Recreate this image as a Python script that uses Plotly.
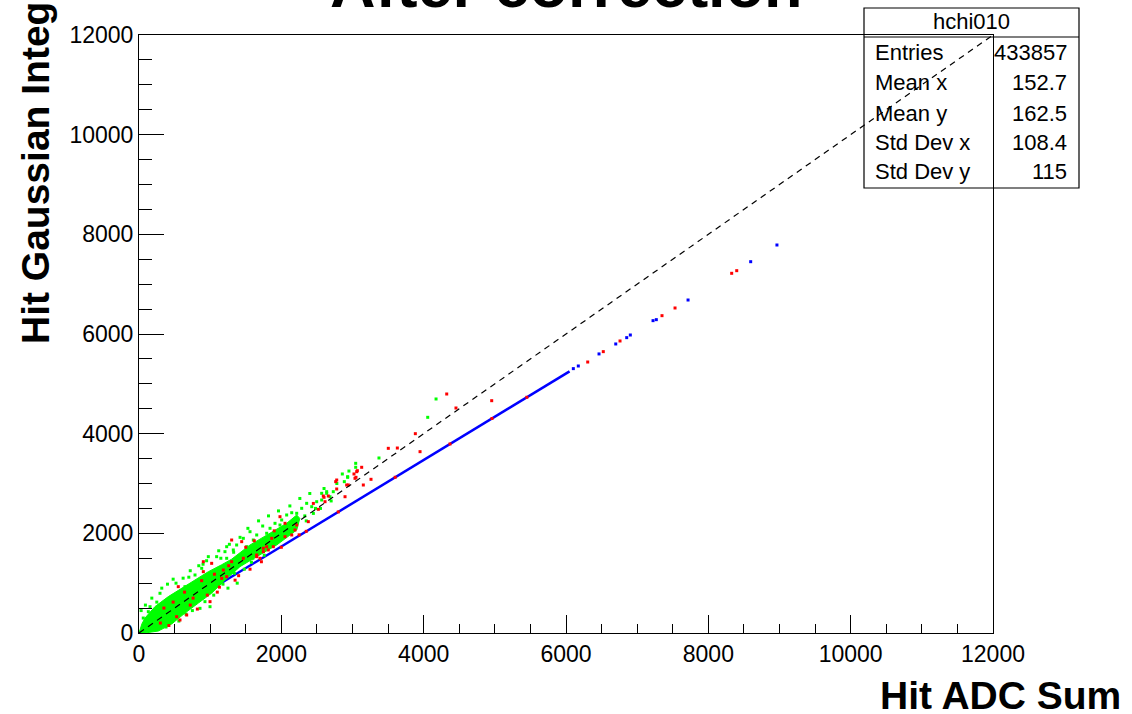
import plotly.graph_objects as go

# ---------------- data ----------------
# dense core of the green population (outline of the saturated region)
green_core_x = [0, 40, 84, 225, 412, 600, 787, 974, 1162, 1300, 1560, 1841, 2075, 2216,
                2260, 2216, 2122, 1935, 1654, 1419, 1208, 1021, 834, 646, 459, 272, 84, 0]
green_core_y = [0, 180, 300, 530, 730, 900, 1065, 1230, 1370, 1480, 1766, 2001, 2201, 2368,
                2300, 2067, 1967, 1766, 1532, 1331, 1060, 800, 600, 400, 180, 40, 0, 0]

# isolated green hits
green_x = [60, 131, 155, 200, 250, 295, 342, 380, 436, 482, 520, 560, 576, 646, 693, 700,
           750, 787, 857, 881, 900, 927, 974, 998, 1050, 1068, 1091, 1150, 1162, 1208, 1232,
           1232, 1250, 1325, 1330, 1372, 1380, 1466, 1513, 1560, 1600, 1606, 1654, 1724,
           1738, 1750, 1794, 1841, 1900, 1911, 1981, 2005, 2050, 2075, 2146, 2200, 2216,
           2286, 2350, 2356, 2427, 2450, 2497, 2550, 2567, 2567, 2637, 2637, 2684, 2730,
           2857, 2885, 2932, 2932, 3045, 3045, 3372, 4057, 4174,
           30, 90, 120, 180, 240, 320, 350, 400, 450, 480, 540, 620, 660, 720, 780, 840,
           880, 950, 1010, 1120, 1180, 1270, 1340, 1420, 1480, 1530, 1580, 1680, 1760,
           1820, 1960, 2030, 2120, 2180, 2260, 2330, 2400, 2480, 2600, 2700, 2780, 2950]
green_y = [300, 428, 528, 80, 620, 797, 596, 120, 696, 294, 1000, 240, 395, 930, 562, 1120,
           450, 1164, 495, 1298, 1380, 629, 1532, 528, 760, 1130, 1532, 1500, 1231, 1632, 1732,
           1499, 900, 1666, 1620, 1766, 1000, 1900, 1732, 2033, 1500, 1866, 1967, 1746,
           2147, 1650, 2001, 2101, 1780, 2201, 2167, 2268, 1950, 2368, 2414, 2100, 2402,
           2502, 2250, 2602, 2535, 2400, 2635, 2500, 2669, 2803, 2803, 2836, 2735, 2836,
           3191, 3037, 3124, 3137, 3405, 3325, 3512, 4328, 4696,
           450, 560, 240, 700, 150, 900, 420, 980, 330, 1080, 700, 1100, 380, 1250, 620, 1350,
           700, 1450, 900, 1650, 980, 1780, 1200, 1920, 1280, 2100, 1420, 2250, 1560,
           2350, 2450, 2050, 2550, 2200, 2700, 2350, 2800, 2500, 2900, 2650, 3000, 3250]

# red hits
red_x = [300, 420, 529, 552, 576, 670, 760, 820, 904, 904, 998, 1021, 1100, 1162, 1185,
         1232, 1302, 1302, 1400, 1443, 1466, 1654, 1654, 1700, 1747, 1747, 1794, 1817, 1865,
         1887, 1981, 2052, 2052, 2146, 2192, 2216, 2350, 2379, 2520, 2590, 2600, 2614, 2660,
         2764, 2778, 2778, 2800, 2895, 2918, 2941, 3021, 3035, 3049, 3059, 3068, 3129, 3152,
         3260, 3503, 3600, 3630, 3883, 3949, 4324, 4370, 4454, 4956, 4960, 5450, 6305, 6524,
         6759, 7349, 7532, 8328, 8399,
         350, 480, 640, 720, 880, 960, 1060, 1130, 1260, 1350, 1500, 1560, 1620, 1720,
         1900, 2000, 2250, 2450]
red_y = [200, 150, 327, 930, 261, 361, 700, 480, 1231, 1431, 629, 1398, 820, 1097, 1264,
         1130, 1431, 1866, 1150, 1833, 1499, 1532, 1565, 1499, 1632, 1700, 1732, 1666, 1900,
         1732, 2334, 2201, 1933, 1967, 2067, 2167, 2040, 2234, 2482, 2749, 2723, 2635, 2749,
         3037, 3070, 2890, 2430, 2735, 2970, 2970, 3191, 3104, 3124, 3237, 3257, 3325, 2970,
         3084, 3706, 3125, 3712, 4000, 3639, 4796, 3793, 4515, 4662, 4305, 4730, 5438, 5646,
         5860, 6368, 6522, 7218, 7271,
         500, 620, 820, 560, 1050, 760, 1180, 920, 1350, 1060, 1720, 1280, 1850, 1430,
         2050, 1720, 1970, 2600]

# blue hits: densely populated response band plus the sparse high-amplitude tail
blue_band_x = [0, 3000, 6050]
blue_band_y = [0, 2605, 5250]
blue_x = [6103, 6173, 6464, 6699, 6853, 6904, 7223, 7269, 7715, 8595, 8964]
blue_y = [5305, 5358, 5600, 5800, 5927, 5980, 6268, 6288, 6682, 7451, 7786]

# y = x reference diagonal
diag_x = [0, 12000]
diag_y = [0, 12000]

axis_ticks = [0, 2000, 4000, 6000, 8000, 10000, 12000]

hist_name = "hchi010"
stat_labels = ["Entries", "Mean x", "Mean y", "Std Dev x", "Std Dev y"]
stat_values = ["433857", "152.7", "162.5", "108.4", "115"]

# ---------------- layout geometry (pixels) ----------------
W, H = 1132, 714
L, R, T, B = 139, 993, 35, 633


def fx(px):
    return (px - L) / (R - L)


def fy(py):
    return (B - py) / (B - T)


FONT = "Liberation Sans, Arial, Helvetica, sans-serif"

fig = go.Figure()

fig.add_trace(go.Scatter(x=blue_band_x, y=blue_band_y, mode="lines",
                         line=dict(color="#0000ff", width=2.5), hoverinfo="skip"))
fig.add_trace(go.Scatter(x=blue_x, y=blue_y, mode="markers",
                         marker=dict(color="#0000ff", size=3, symbol="square",
                                     line=dict(width=0))))
fig.add_trace(go.Scatter(x=green_core_x, y=green_core_y, mode="lines", fill="toself",
                         fillcolor="#00ff00", line=dict(color="#00ff00", width=1)))
fig.add_trace(go.Scatter(x=green_x, y=green_y, mode="markers",
                         marker=dict(color="#00ff00", size=3, symbol="square",
                                     line=dict(width=0))))
fig.add_trace(go.Scatter(x=red_x, y=red_y, mode="markers",
                         marker=dict(color="#ff0000", size=3, symbol="square",
                                     line=dict(width=0))))
fig.add_trace(go.Scatter(x=diag_x, y=diag_y, mode="lines",
                         line=dict(color="black", width=1.2, dash="6px,5px")))

axis_common = dict(
    range=[0, 12000], tickvals=axis_ticks, ticktext=[str(v) for v in axis_ticks],
    ticks="inside", tickwidth=1, tickcolor="black",
    showline=True, linecolor="black", linewidth=1, mirror=True,
    showgrid=False, zeroline=False,
    tickfont=dict(family=FONT, size=23, color="black"),
)

fig.update_xaxes(**axis_common, ticklen=18,
                 minor=dict(dtick=500, ticks="inside", ticklen=9, tickcolor="black",
                            tickwidth=1, showgrid=False))
fig.update_yaxes(**axis_common, ticklen=25,
                 minor=dict(dtick=500, ticks="inside", ticklen=13, tickcolor="black",
                            tickwidth=1, showgrid=False))

annotations = [
    dict(text="<b>After correction</b>", x=0.5, y=fy(22), xref="paper", yref="paper",
         xanchor="center", yanchor="bottom", showarrow=False,
         font=dict(family=FONT, size=63, color="black")),
    dict(text="<b>Hit Gaussian Integral</b>", x=fx(35), y=fy(149), xref="paper", yref="paper",
         xanchor="center", yanchor="middle", textangle=-90, showarrow=False,
         font=dict(family=FONT, size=39, color="black")),
    dict(text="<b>Hit ADC Sum</b>", x=fx(1123), y=fy(695), xref="paper", yref="paper",
         xanchor="right", yanchor="middle", showarrow=False,
         font=dict(family=FONT, size=39, color="black")),
    dict(text=hist_name, x=fx(971.5), y=fy(22), xref="paper", yref="paper",
         xanchor="center", yanchor="middle", showarrow=False,
         font=dict(family=FONT, size=22, color="black")),
]
row_centers = [53, 83, 113, 142, 172]
for lab, val, py in zip(stat_labels, stat_values, row_centers):
    annotations.append(dict(text=lab, x=fx(873), y=fy(py), xref="paper", yref="paper",
                            xanchor="left", yanchor="middle", showarrow=False,
                            font=dict(family=FONT, size=22, color="black")))
    annotations.append(dict(text=val, x=fx(1069), y=fy(py), xref="paper", yref="paper",
                            xanchor="right", yanchor="middle", showarrow=False,
                            font=dict(family=FONT, size=22, color="black")))

shapes = [
    dict(type="rect", xref="paper", yref="paper", x0=fx(864), x1=fx(1079),
         y0=fy(188), y1=fy(8), line=dict(color="black", width=1.2), fillcolor="rgba(0,0,0,0)"),
    dict(type="line", xref="paper", yref="paper", x0=fx(864), x1=fx(1079),
         y0=fy(37), y1=fy(37), line=dict(color="black", width=1.2)),
]

fig.update_layout(
    width=W, height=H, autosize=False,
    margin=dict(l=L, r=W - R, t=T, b=H - B, pad=0),
    paper_bgcolor="white", plot_bgcolor="white",
    showlegend=False,
    annotations=annotations, shapes=shapes,
    font=dict(family=FONT, color="black"),
)

fig.write_html("out.html")
